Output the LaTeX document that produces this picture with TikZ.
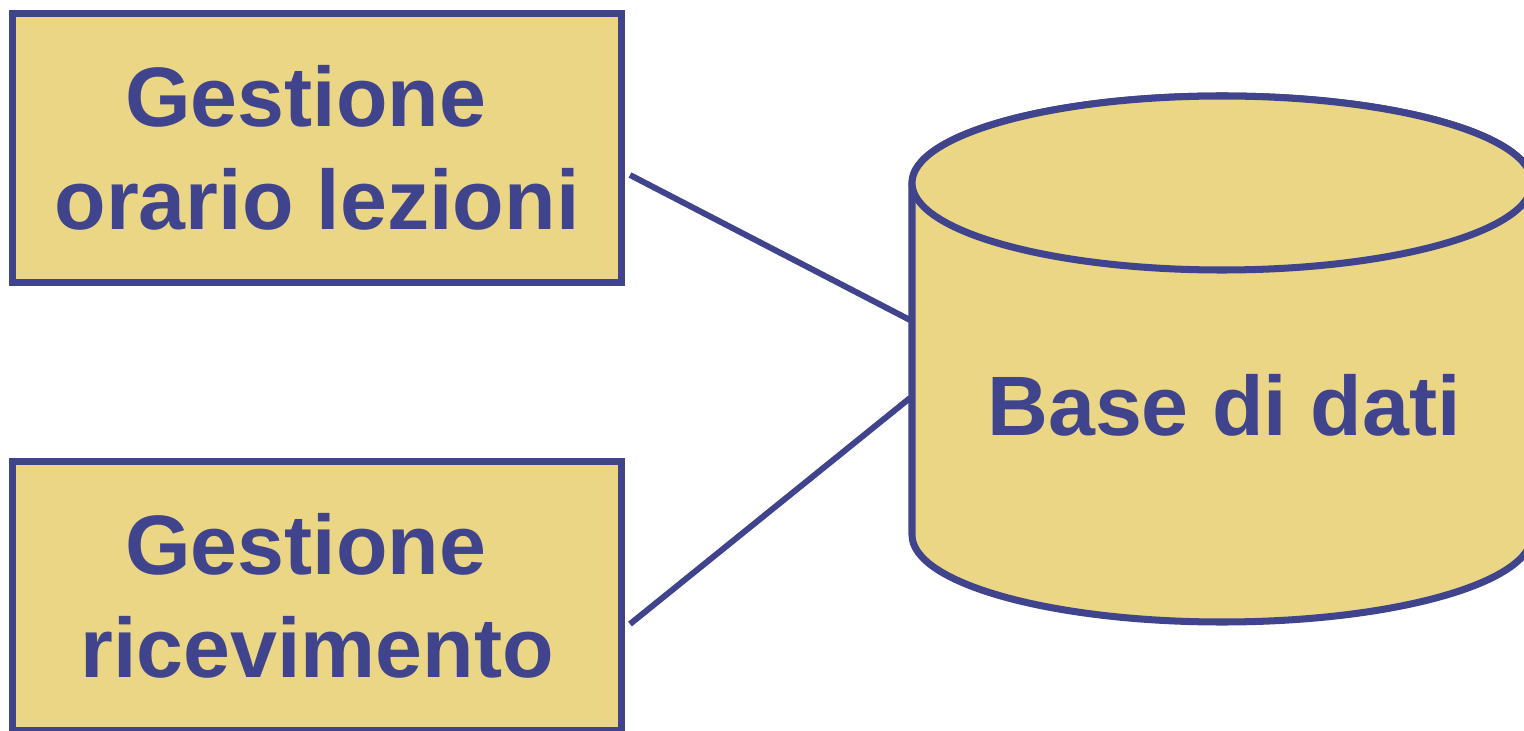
\documentclass[tikz,border=0pt]{standalone}
\usepackage{fontspec}
\setmainfont{Liberation Sans}
\usetikzlibrary{positioning}
\definecolor{dbblue}{RGB}{64,68,140}
\definecolor{dbsand}{RGB}{235,214,134}

\begin{document}
\begin{tikzpicture}[
      every node/.style={text=dbblue,font=\fontsize{24}{29.3}\selectfont\bfseries,align=center},
      procbox/.style={draw=dbblue,fill=dbsand,line width=2pt,minimum width=6.09cm,minimum height=2.69cm,inner sep=0pt},
      dbshape/.style={draw=dbblue,fill=dbsand,line width=2pt},
      link/.style={draw=dbblue,line width=1.7pt}
     ]
    \useasboundingbox (0,0) rectangle (15.24,7.30);
    \node[procbox] (orario) at (3.17,5.82) {Gestione\hspace*{0.23cm}\\orario lezioni};
    \node[procbox,below=1.72cm of orario] (ricev) {Gestione\hspace*{0.23cm}\\ricevimento};
    % database cylinder
    \path[dbshape] (9.12,5.47) -- (9.12,1.95)
      arc[start angle=180,end angle=360,x radius=3.10,y radius=0.87] -- (15.32,5.47)
      arc[start angle=0,end angle=180,x radius=3.10,y radius=0.87] -- cycle;
    \path[dbshape] (12.22,5.47) ellipse[x radius=3.10,y radius=0.87];
    \node (db) at (12.24,3.25) {Base di dati};
    \coordinate (dbin1) at (9.10,4.10);
    \coordinate (dbin2) at (9.10,3.32);
    \draw[link] ([xshift=0.05cm,yshift=-0.27cm]orario.east) -- (dbin1);
    \draw[link] ([xshift=0.05cm,yshift=-0.28cm]ricev.east) -- (dbin2);
\end{tikzpicture}
\end{document}
